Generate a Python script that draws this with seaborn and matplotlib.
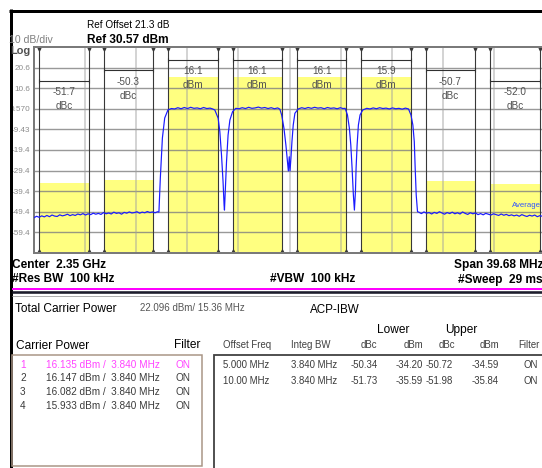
import numpy as np
import pandas as pd
import seaborn as sns
import matplotlib
matplotlib.use("Agg")
import matplotlib.pyplot as plt
from matplotlib.lines import Line2D
from matplotlib.patches import Rectangle

# ---------------- data ----------------
ref_level_dbm = 30.57
span_mhz = 39.68

ytick_values = [20.57, 10.57, 0.57, -9.43, -19.43, -29.43, -39.43, -49.43, -59.43]
ytick_labels = ["20.6", "10.6", "0.570", "-9.43", "-19.4", "-29.4", "-39.4", "-49.4", "-59.4"]

channel_center_mhz = [-17.5, -12.5, -7.5, -2.5, 2.5, 7.5, 12.5, 17.5]
channel_power_dbm = [-35.59, -34.20, 16.135, 16.147, 16.082, 15.933, -34.59, -35.84]
channel_value_text = ["-51.7", "-50.3", "16.1", "16.1", "16.1", "15.9", "-50.7", "-52.0"]
channel_unit_text = ["dBc", "dBc", "dBm", "dBm", "dBm", "dBm", "dBc", "dBc"]
channel_kind = ["acp10", "acp5", "carrier", "carrier", "carrier", "carrier", "acp5", "acp10"]
channel_bw_mhz = 3.84

trace_freq_mhz = [
    # lower noise floor
    -19.84, -19.64, -19.44, -19.24, -19.04, -18.84, -18.64, -18.44, -18.24, -18.04,
    -17.84, -17.64, -17.44, -17.24, -17.04, -16.84, -16.64, -16.44, -16.24, -16.04,
    -15.84, -15.64, -15.44, -15.24, -15.04, -14.84, -14.64, -14.44, -14.24, -14.04,
    -13.84, -13.64, -13.44, -13.24, -13.04, -12.84, -12.64, -12.44, -12.24, -12.04,
    -11.84, -11.64, -11.44, -11.24, -11.04, -10.84, -10.64, -10.44, -10.24,
    # carrier 1 rise
    -10.14, -10.03, -9.87, -9.69, -9.44, -9.17,
    # carrier 1 top
    -8.92, -8.67, -8.42, -8.17, -7.92, -7.67, -7.42, -7.17, -6.92, -6.67, -6.42, -6.17, -5.97,
    # dip 1
    -5.80, -5.54, -5.41, -5.28, -5.16, -5.08, -5.05, -5.00, -4.89, -4.77, -4.63, -4.42, -4.17,
    # carrier 2 top
    -3.92, -3.67, -3.42, -3.17, -2.92, -2.67, -2.42, -2.17, -1.92, -1.67, -1.42, -1.17, -0.92, -0.75,
    # dip 2
    -0.61, -0.43, -0.28, -0.17, -0.09, -0.02, 0.04, 0.11, 0.19, 0.29, 0.42, 0.68, 0.95,
    # carrier 3 top
    1.20, 1.45, 1.70, 1.95, 2.20, 2.45, 2.70, 2.95, 3.20, 3.45, 3.70, 3.95, 4.15,
    # dip 3
    4.32, 4.50, 4.65, 4.76, 4.86, 4.96, 5.04, 5.12, 5.17, 5.25, 5.35, 5.48, 5.69, 6.00,
    # carrier 4 top
    6.25, 6.50, 6.75, 7.00, 7.25, 7.50, 7.75, 8.00, 8.25, 8.50, 8.75, 9.00, 9.24,
    # carrier 4 fall
    9.43, 9.58, 9.69, 9.76, 9.84, 9.94,
    # upper noise floor
    10.04, 10.24, 10.44, 10.64, 10.84, 11.04, 11.24, 11.44, 11.64, 11.84,
    12.04, 12.24, 12.44, 12.64, 12.84, 13.04, 13.24, 13.44, 13.64, 13.84,
    14.04, 14.24, 14.44, 14.64, 14.84, 15.04, 15.24, 15.44, 15.64, 15.84,
    16.04, 16.24, 16.44, 16.64, 16.84, 17.04, 17.24, 17.44, 17.64, 17.84,
    18.04, 18.24, 18.44, 18.64, 18.84, 19.04, 19.24, 19.44, 19.64, 19.84,
]
trace_level_dbm = [
    # lower noise floor
    -52.3, -51.6, -52.1, -51.4, -51.9, -51.2, -51.8, -51.0, -51.5, -51.7,
    -50.9, -51.4, -51.1, -50.6, -51.3, -50.8, -51.2, -50.5, -50.9, -50.3,
    -51.0, -50.4, -50.8, -50.1, -50.6, -50.2, -50.7, -49.8, -50.4, -50.0,
    -50.5, -49.6, -50.2, -49.9, -50.6, -49.7, -50.1, -49.5, -50.0, -49.8,
    -49.4, -50.1, -49.6, -49.9, -49.3, -49.8, -49.5, -49.9, -49.4,
    # carrier 1 rise
    -49.6, -33.0, -13.6, -3.9, 0.0, 0.7,
    # carrier 1 top
    0.5, 1.1, 0.6, 1.2, 0.7, 1.3, 0.8, 1.0, 0.6, 1.2, 0.7, 0.9, 0.5,
    # dip 1
    0.0, -4.0, -10.5, -21.9, -34.8, -46.1, -48.6, -41.3, -25.1, -12.2, -4.9, -0.8, 0.8,
    # carrier 2 top
    0.6, 1.1, 0.7, 1.3, 0.8, 1.0, 1.4, 0.9, 1.2, 0.7, 1.1, 0.6, 1.0, 0.4,
    # dip 2
    -2.4, -8.9, -17.0, -24.3, -29.6, -22.7, -29.6, -23.5, -15.4, -7.3, -1.6, 0.5, 1.1,
    # carrier 3 top
    0.7, 1.2, 0.8, 1.3, 0.9, 1.1, 0.6, 1.2, 0.8, 1.0, 0.6, 1.1, 0.7,
    # dip 3
    0.8, -2.4, -8.9, -17.0, -28.3, -41.3, -48.6, -39.7, -28.3, -17.0, -7.3, -2.4, 0.0, 0.8,
    # carrier 4 top
    0.5, 1.0, 0.6, 1.1, 0.7, 0.9, 0.5, 1.0, 0.6, 0.8, 0.4, 0.9, 0.5,
    # carrier 4 fall
    -2.4, -7.3, -15.4, -28.3, -41.3, -49.4,
    # upper noise floor
    -49.6, -50.3, -49.5, -50.1, -49.8, -50.5, -49.7, -50.2, -49.4, -50.0,
    -50.6, -49.8, -50.3, -49.6, -50.4, -49.9, -50.5, -49.5, -50.2, -50.7,
    -49.9, -50.4, -50.0, -50.8, -50.3, -50.9, -50.2, -50.6, -51.0, -50.4,
    -50.8, -51.2, -50.5, -51.1, -50.7, -51.3, -50.9, -51.4, -51.0, -51.6,
    -50.8, -51.3, -51.7, -51.1, -51.5, -51.0, -51.8, -51.3, -51.6, -51.2,
]

carrier_index = ["1", "2", "3", "4"]
carrier_power_text = ["16.135 dBm /  3.840 MHz", "16.147 dBm /  3.840 MHz",
                      "16.082 dBm /  3.840 MHz", "15.933 dBm /  3.840 MHz"]
carrier_filter = ["ON", "ON", "ON", "ON"]

acp_offset = ["5.000 MHz", "10.00 MHz"]
acp_integ_bw = ["3.840 MHz", "3.840 MHz"]
acp_lower_dbc = ["-50.34", "-51.73"]
acp_lower_dbm = ["-34.20", "-35.59"]
acp_upper_dbc = ["-50.72", "-51.98"]
acp_upper_dbm = ["-34.59", "-35.84"]
acp_filter = ["ON", "ON"]

# ---------------- style / layout ----------------
sns.set_style("white")
plt.rcParams["font.family"] = ["Liberation Sans", "DejaVu Sans"]

W, H = 542, 468
fig = plt.figure(figsize=(W / 100, H / 100), dpi=100)
fig.patch.set_facecolor("white")


def fx(x):
    return x / W


def fy(y):
    return 1 - y / H


def px(v):  # pixels -> points
    return v * 0.72


floor_dbm = ref_level_dbm - 100
ax = fig.add_axes([fx(34), fy(253), 511 / W, 206 / H])
ax.set_facecolor("white")

# yellow channel bars
df_ch = pd.DataFrame({"center": channel_center_mhz,
                      "height": np.array(channel_power_dbm) - floor_dbm})
sns.barplot(data=df_ch, x="center", y="height", native_scale=True,
            width=channel_bw_mhz / 5.0, bottom=floor_dbm, color="#ffff80",
            saturation=1, errorbar=None, linewidth=0, ax=ax, zorder=1)

# grid
for yv in ytick_values:
    ax.axhline(yv, color="#808080", lw=px(1.4), alpha=0.8, zorder=1.5)
for xv in np.linspace(-span_mhz / 2, span_mhz / 2, 11)[1:-1]:
    ax.axvline(xv, color="#a0a0a0", lw=px(2.0), alpha=0.45, zorder=1.5)

# channel brackets and labels
layout = {
    "carrier": dict(bracket=24.3, value=17.5, unit=10.5),
    "acp5": dict(bracket=19.3, value=12.1, unit=5.2),
    "acp10": dict(bracket=14.2, value=7.3, unit=0.3),
}
for c, v, u, k in zip(channel_center_mhz, channel_value_text, channel_unit_text, channel_kind):
    lo, hi = c - channel_bw_mhz / 2, c + channel_bw_mhz / 2
    for e in (lo, hi):
        ax.plot([e, e], [floor_dbm, ref_level_dbm], color="#383838", lw=px(1.1), zorder=2)
        ax.plot([e], [ref_level_dbm - 0.8], marker="v", ms=2, color="#383838", zorder=2, clip_on=False)
        ax.plot([e], [floor_dbm + 0.8], marker="^", ms=2, color="#383838", zorder=2, clip_on=False)
    L = layout[k]
    ax.plot([lo, hi], [L["bracket"], L["bracket"]], color="#303030", lw=px(1.1),
            marker="|", ms=3.5, mew=0.8, zorder=2.5)
    ax.text(c, L["value"], v, ha="center", va="baseline", fontsize=7.2, color="#505050", zorder=4)
    ax.text(c, L["unit"], u, ha="center", va="baseline", fontsize=7.2, color="#505050", zorder=4)

# trace
sns.lineplot(x=trace_freq_mhz, y=trace_level_dbm, sort=False, estimator=None,
             color="#1a1aff", lw=px(1.2), ax=ax, zorder=3)
ax.text(19.5, -46.6, "Average", color="#3355ff", fontsize=5.6, va="center", ha="right",
        zorder=4, clip_on=True)

ax.set_xlim(-span_mhz / 2, span_mhz / 2)
ax.set_ylim(floor_dbm, ref_level_dbm)
ax.set_xticks([])
ax.set_yticks(ytick_values, labels=ytick_labels)
ax.tick_params(axis="y", length=0, pad=2.5, labelsize=5.9, labelcolor="#8c8c8c")
ax.set_xlabel("")
ax.set_ylabel("")
for s in ("left", "top", "bottom"):
    ax.spines[s].set_color("#7a7a7a")
    ax.spines[s].set_linewidth(px(2))
ax.spines["right"].set_visible(False)
if ax.get_legend():
    ax.get_legend().remove()


# ---------------- figure-level decorations ----------------
def hline(x0, x1, y, color, lw):
    fig.add_artist(Line2D([fx(x0), fx(x1)], [fy(y), fy(y)], transform=fig.transFigure,
                          color=color, lw=px(lw), zorder=10, solid_capstyle="butt"))


def vline(x, y0, y1, color, lw):
    fig.add_artist(Line2D([fx(x), fx(x)], [fy(y0), fy(y1)], transform=fig.transFigure,
                          color=color, lw=px(lw), zorder=10, solid_capstyle="butt"))


def txt(x, y, s, size, color="black", weight="normal", ha="left"):
    fig.text(fx(x), fy(y), s, fontsize=size, color=color, weight=weight, ha=ha,
             va="baseline", zorder=11)


hline(9, 542, 10.8, "black", 3)
vline(10.5, 9.3, 468, "black", 3)
hline(12, 542, 289.2, "#ff00ff", 2)
hline(12, 542, 292.0, "#1c1c2c", 2.6)
hline(12, 542, 296.0, "#b0b0b0", 1)

# header texts
txt(9, 42.7, "10 dB/div", 7.6, color="#808080")
txt(10, 53.5, "Log", 7.9, color="#505050", weight="bold")
txt(87, 28.3, "Ref Offset 21.3 dB", 7.2)
txt(87, 43.0, "Ref 30.57 dBm", 8.6, weight="bold")

# bottom annotation texts
txt(12, 268, "Center  2.35 GHz", 8.6, weight="bold")
txt(12, 282.5, "#Res BW  100 kHz", 8.6, weight="bold")
txt(270, 282.5, "#VBW  100 kHz", 8.6, weight="bold")
txt(454, 268, "Span 39.68 MHz", 8.6, weight="bold")
txt(458, 282.5, "#Sweep  29 ms", 8.6, weight="bold")

# result panel
txt(15, 312.3, "Total Carrier Power", 8.6)
txt(140, 311, "22.096 dBm/ 15.36 MHz", 7.0, color="#555555")
txt(310, 313, "ACP-IBW", 8.4)
txt(16, 349, "Carrier Power", 8.6)
txt(174, 348, "Filter", 8.6)

fig.add_artist(Rectangle((fx(12), fy(466)), fx(202) - fx(12), fy(355) - fy(466),
                         transform=fig.transFigure, fill=False, edgecolor="#a89484",
                         lw=px(1.5), zorder=10))
fig.add_artist(Rectangle((fx(214), fy(472)), fx(548) - fx(214), fy(355) - fy(472),
                         transform=fig.transFigure, fill=False, edgecolor="#404040",
                         lw=px(1.8), zorder=10))

row_base = [367.7, 381.0, 395.0, 409.0]
for i, (n, p, f) in enumerate(zip(carrier_index, carrier_power_text, carrier_filter)):
    col = "#ff44ff" if i == 0 else "#3a3a3a"
    txt(20, row_base[i], n, 7.2, color=col)
    txt(46, row_base[i], p, 7.2, color=col)
    txt(176, row_base[i], f, 7.2, color=col)

txt(393, 333.3, "Lower", 8.6, ha="center")
txt(461.5, 333.3, "Upper", 8.6, ha="center")
hdr_col = "#404040"
txt(223, 348, "Offset Freq", 6.9, color=hdr_col)
txt(291, 348, "Integ BW", 6.9, color=hdr_col)
txt(377, 348, "dBc", 6.9, color=hdr_col, ha="right")
txt(423, 348, "dBm", 6.9, color=hdr_col, ha="right")
txt(455, 348, "dBc", 6.9, color=hdr_col, ha="right")
txt(499, 348, "dBm", 6.9, color=hdr_col, ha="right")
txt(540, 348, "Filter", 6.9, color=hdr_col, ha="right")

acp_base = [367.7, 384.0]
for i in range(len(acp_offset)):
    y = acp_base[i]
    txt(223, y, acp_offset[i], 6.9, color="#3a3a3a")
    txt(291, y, acp_integ_bw[i], 6.9, color="#3a3a3a")
    txt(378, y, acp_lower_dbc[i], 6.9, color="#3a3a3a", ha="right")
    txt(423, y, acp_lower_dbm[i], 6.9, color="#3a3a3a", ha="right")
    txt(453, y, acp_upper_dbc[i], 6.9, color="#3a3a3a", ha="right")
    txt(499, y, acp_upper_dbm[i], 6.9, color="#3a3a3a", ha="right")
    txt(538, y, acp_filter[i], 6.9, color="#3a3a3a", ha="right")

fig.savefig("out.png", dpi=100, facecolor="white")
